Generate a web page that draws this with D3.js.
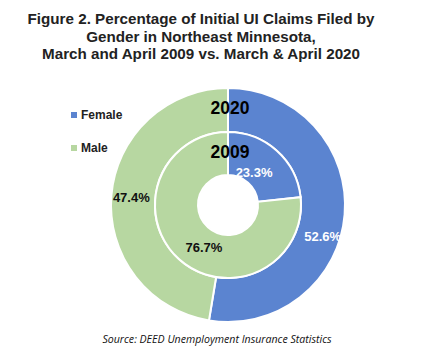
<!DOCTYPE html>
<html>
<head>
<meta charset="utf-8">
<script src="https://cdn.jsdelivr.net/npm/d3@7"></script>
<style>
  body { margin: 0; background: #fff; }
  text { font-family: "Liberation Sans", Arial, sans-serif; }
</style>
</head>
<body>
<div id="chart"></div>
<script>
// Chart data
const genders = ["Female", "Male"];
const values2020 = [52.6, 47.4];
const values2009 = [23.3, 76.7];
const titleLines = [
  "Figure 2. Percentage of Initial UI Claims Filed by",
  "Gender in Northeast Minnesota,",
  "March and April 2009 vs. March & April 2020"
];
const sourceText = "Source: DEED Unemployment Insurance Statistics";

const width = 431;
const height = 361;
const cx = 228, cy = 205;

const svg = d3.select("#chart")
  .append("svg")
  .attr("width", width)
  .attr("height", height);

const color = d3.scaleOrdinal()
  .domain(genders)
  .range(["#5b84d0", "#b7d7a1"]);

// Title
svg.append("g")
  .selectAll("text")
  .data(titleLines)
  .enter().append("text")
  .attr("x", 201)
  .attr("y", (d, i) => 24 + i * 17.5)
  .attr("text-anchor", "middle")
  .attr("font-size", "15.2px")
  .attr("font-weight", "bold")
  .attr("fill", "#222")
  .text(d => d);

const pie = d3.pie().sort(null).value(d => d.value);

const rings = [
  { year: "2020", values: values2020, inner: 73, outer: 117 },
  { year: "2009", values: values2009, inner: 30, outer: 73 }
];

const chart = svg.append("g").attr("transform", `translate(${cx},${cy})`);

rings.forEach(ring => {
  const data = pie(genders.map((g, i) => ({ gender: g, value: ring.values[i] })));
  const arc = d3.arc().innerRadius(ring.inner).outerRadius(ring.outer);
  chart.append("g")
    .selectAll("path")
    .data(data)
    .enter().append("path")
    .attr("d", arc)
    .attr("fill", d => color(d.data.gender))
    .attr("stroke", "#fff")
    .attr("stroke-width", 2);
});

// Value labels (placed at arc centroid, nudged like the original)
const labelPos = d3.arc();
function addLabel(ring, idx, rad, dx, dy, fill) {
  const data = pie(genders.map((g, i) => ({ gender: g, value: ring.values[i] })));
  const d = data[idx];
  const [x, y] = labelPos.innerRadius(rad).outerRadius(rad).centroid(d);
  chart.append("text")
    .attr("x", x + dx)
    .attr("y", y + dy)
    .attr("text-anchor", "middle")
    .attr("dominant-baseline", "central")
    .attr("font-size", "13px")
    .attr("font-weight", "bold")
    .attr("fill", fill)
    .text(d.data.value.toFixed(1) + "%");
}
addLabel(rings[0], 0, 97, -2, 24, "#fff");
addLabel(rings[0], 1, 97, 0, 0, "#111");
addLabel(rings[1], 0, 48, -6, 3, "#fff");
addLabel(rings[1], 1, 48, 8, 7, "#111");

// Year labels
chart.selectAll(".year")
  .data(rings)
  .enter().append("text")
  .attr("x", 2)
  .attr("y", (d, i) => i === 0 ? -97 : -53)
  .attr("text-anchor", "middle")
  .attr("dominant-baseline", "central")
  .attr("font-size", "17.5px")
  .attr("font-weight", "bold")
  .attr("fill", "#000")
  .text(d => d.year);

// Legend
const legend = svg.append("g")
  .selectAll("g")
  .data(genders)
  .enter().append("g")
  .attr("transform", (d, i) => `translate(71,${115 + i * 33})`);

legend.append("rect")
  .attr("x", 0)
  .attr("y", -3)
  .attr("width", 6)
  .attr("height", 6)
  .attr("fill", d => color(d));

legend.append("text")
  .attr("x", 10)
  .attr("y", 0)
  .attr("dominant-baseline", "central")
  .attr("font-size", "12px")
  .attr("font-weight", "bold")
  .attr("fill", "#222")
  .text(d => d);

// Source
svg.append("text")
  .attr("x", 217)
  .attr("y", 343)
  .attr("text-anchor", "middle")
  .attr("font-size", "10.6px")
  .attr("font-style", "italic")
  .style("font-family", "'Open Sans', sans-serif")
  .attr("fill", "#111")
  .text(sourceText);
</script>
</body>
</html>
